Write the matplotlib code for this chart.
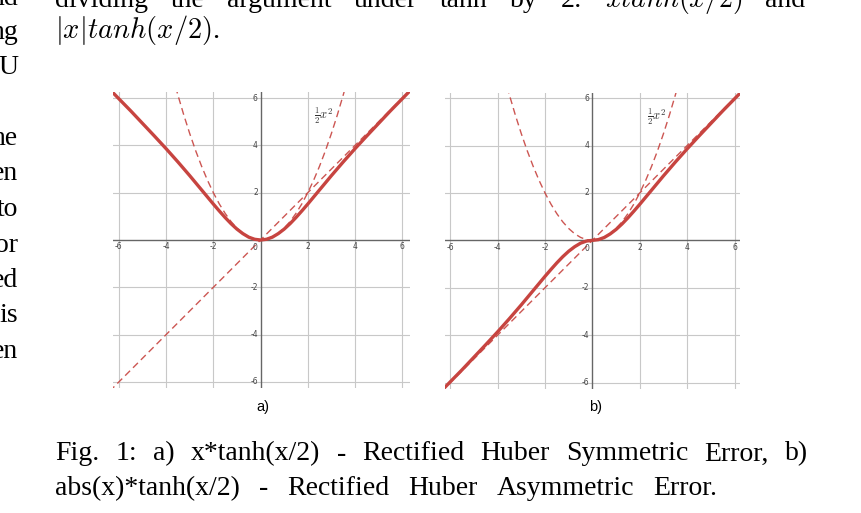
import numpy as np
import matplotlib.pyplot as plt

W, H = 861, 513

# points (same x for both solid curves)
x_curve = [-6.4, -6.0, -5.5, -5.0, -4.5, -4.0, -3.5, -3.0, -2.5, -2.0, -1.75, -1.5, -1.25,
           -1.0, -0.75, -0.5, -0.25, 0.0, 0.25, 0.5, 0.75, 1.0, 1.25, 1.5, 1.75, 2.0,
           2.5, 3.0, 3.5, 4.0, 4.5, 5.0, 5.5, 6.0, 6.4]
# a) x*tanh(x/2)
y_sym = [6.38, 5.97, 5.46, 4.93, 4.40, 3.86, 3.30, 2.72, 2.12, 1.52, 1.23, 0.95, 0.69,
         0.46, 0.27, 0.12, 0.03, 0.0, 0.03, 0.12, 0.27, 0.46, 0.69, 0.95, 1.23, 1.52,
         2.12, 2.72, 3.30, 3.86, 4.40, 4.93, 5.46, 5.97, 6.38]
# b) abs(x)*tanh(x/2)
y_asym = [-6.38, -5.97, -5.46, -4.93, -4.40, -3.86, -3.30, -2.72, -2.12, -1.52, -1.23, -0.95, -0.69,
          -0.46, -0.27, -0.12, -0.03, 0.0, 0.03, 0.12, 0.27, 0.46, 0.69, 0.95, 1.23, 1.52,
          2.12, 2.72, 3.30, 3.86, 4.40, 4.93, 5.46, 5.97, 6.38]
# dashed 1/2 x^2
x_par = [-3.6, -3.5, -3.25, -3.0, -2.75, -2.5, -2.25, -2.0, -1.75, -1.5, -1.25, -1.0, -0.75,
         -0.5, -0.25, 0.0, 0.25, 0.5, 0.75, 1.0, 1.25, 1.5, 1.75, 2.0, 2.25, 2.5, 2.75,
         3.0, 3.25, 3.5, 3.6]
y_par = [6.48, 6.125, 5.28, 4.5, 3.78, 3.125, 2.53, 2.0, 1.53, 1.125, 0.78, 0.5, 0.28,
         0.125, 0.03, 0.0, 0.03, 0.125, 0.28, 0.5, 0.78, 1.125, 1.53, 2.0, 2.53, 3.125, 3.78,
         4.5, 5.28, 6.125, 6.48]
# dashed y = x
x_lin = [-6.4, 6.4]
y_lin = [-6.4, 6.4]

ticks = [-6, -4, -2, 2, 4, 6]

body_left = ["nd", "ng", "U", "he", "en", "to", "or", "ed", "is", "en"]
body_left_y = [5, 39, 74, 145, 180.5, 216, 251.5, 287, 322.5, 358]
top_words = ["dividing", "the", "argument", "under", "tanh", "by", "2:", r"$xtanh(x/2)$", "and"]
caption1 = ["Fig.", "1:", "a)", "x*tanh(x/2)", "-", "Rectified", "Huber", "Symmetric", "Error,", "b)"]
caption2 = ["abs(x)*tanh(x/2)", "-", "Rectified", "Huber", "Asymmetric", "Error."]

red = "#c74440"
plt.rcParams['mathtext.fontset'] = 'cm'
serif = "Liberation Serif"
fs = 20

fig = plt.figure(figsize=(W / 100, H / 100), dpi=100)


def px(x, y):
    return x / W, 1 - y / H


def panel(box, xlim, ylim, ycurve, lab_xy, tag, tag_x):
    x0, y0, x1, y1 = box
    ax = fig.add_axes([x0 / W, 1 - y1 / H, (x1 - x0) / W, (y1 - y0) / H])
    ax.set_xlim(*xlim)
    ax.set_ylim(*ylim)
    for s in ax.spines.values():
        s.set_visible(False)
    ax.set_xticks([])
    ax.set_yticks([])
    for t in ticks:
        ax.axvline(t, color="#c8c8c8", lw=0.8, zorder=0)
        ax.axhline(t, color="#c8c8c8", lw=0.8, zorder=0)
    ax.axvline(0, color="#666666", lw=1.0, zorder=1)
    ax.axhline(0, color="#666666", lw=1.0, zorder=1)
    for t in ticks:
        ax.annotate(str(t), (t, 0), xytext=(0, -5), textcoords="offset points",
                    ha="center", va="center", fontsize=5.5, color="#444444")
        ax.annotate(str(t), (0, t), xytext=(-2, 0), textcoords="offset points",
                    ha="right", va="center", fontsize=5.5, color="#444444")
    ax.annotate("0", (0, 0), xytext=(-2, -2.5), textcoords="offset points",
                ha="right", va="top", fontsize=5.5, color="#444444")
    ax.plot(x_lin, y_lin, color=red, lw=1.0, dashes=(5, 3), alpha=0.9, zorder=2)
    ax.plot(x_par, y_par, color=red, lw=1.0, dashes=(5, 3), alpha=0.9, zorder=2)
    ax.plot(x_curve, ycurve, color=red, lw=2.4, solid_capstyle="butt", zorder=3)
    ax.text(lab_xy[0], lab_xy[1], r"$\frac{1}{2}x^2$", fontsize=9, color="#333333",
            ha="center", va="center")
    fig.text(*px(tag_x, 407), tag, fontsize=10.5, family="Liberation Sans",
             ha="center", va="center")
    return ax


panel((113, 91.7, 410, 388.3), (-6.25, 6.33), (-6.27, 6.27), y_sym, (2.69, 5.25), "a)", 262.5)
panel((445, 93, 740, 389), (-6.22, 6.23), (-6.27, 6.215), y_asym, (2.73, 5.2), "b)", 595.7)

renderer = fig.canvas.get_renderer()


def justify(words, x0, x1, y, size=fs):
    items = [fig.text(0, 0, w, va="baseline", fontsize=size, family=serif) for w in words]
    widths = [t.get_window_extent(renderer).width for t in items]
    gap = (x1 - x0 - sum(widths)) / (len(words) - 1)
    xpos = x0
    for t, w in zip(items, widths):
        t.set_position(px(xpos, y))
        xpos += w + gap


for w, y in zip(body_left, body_left_y):
    fig.text(*px(18, y), w, ha="right", va="baseline", fontsize=fs, family=serif)

justify(top_words, 55, 805, 7)
fig.text(*px(55, 38), r"$|x|tanh(x/2)$.", va="baseline", fontsize=20.5, family=serif)

justify(caption1, 55, 808, 460.5)
justify(caption2, 55, 717, 495)

fig.savefig("out.png", dpi=100)
